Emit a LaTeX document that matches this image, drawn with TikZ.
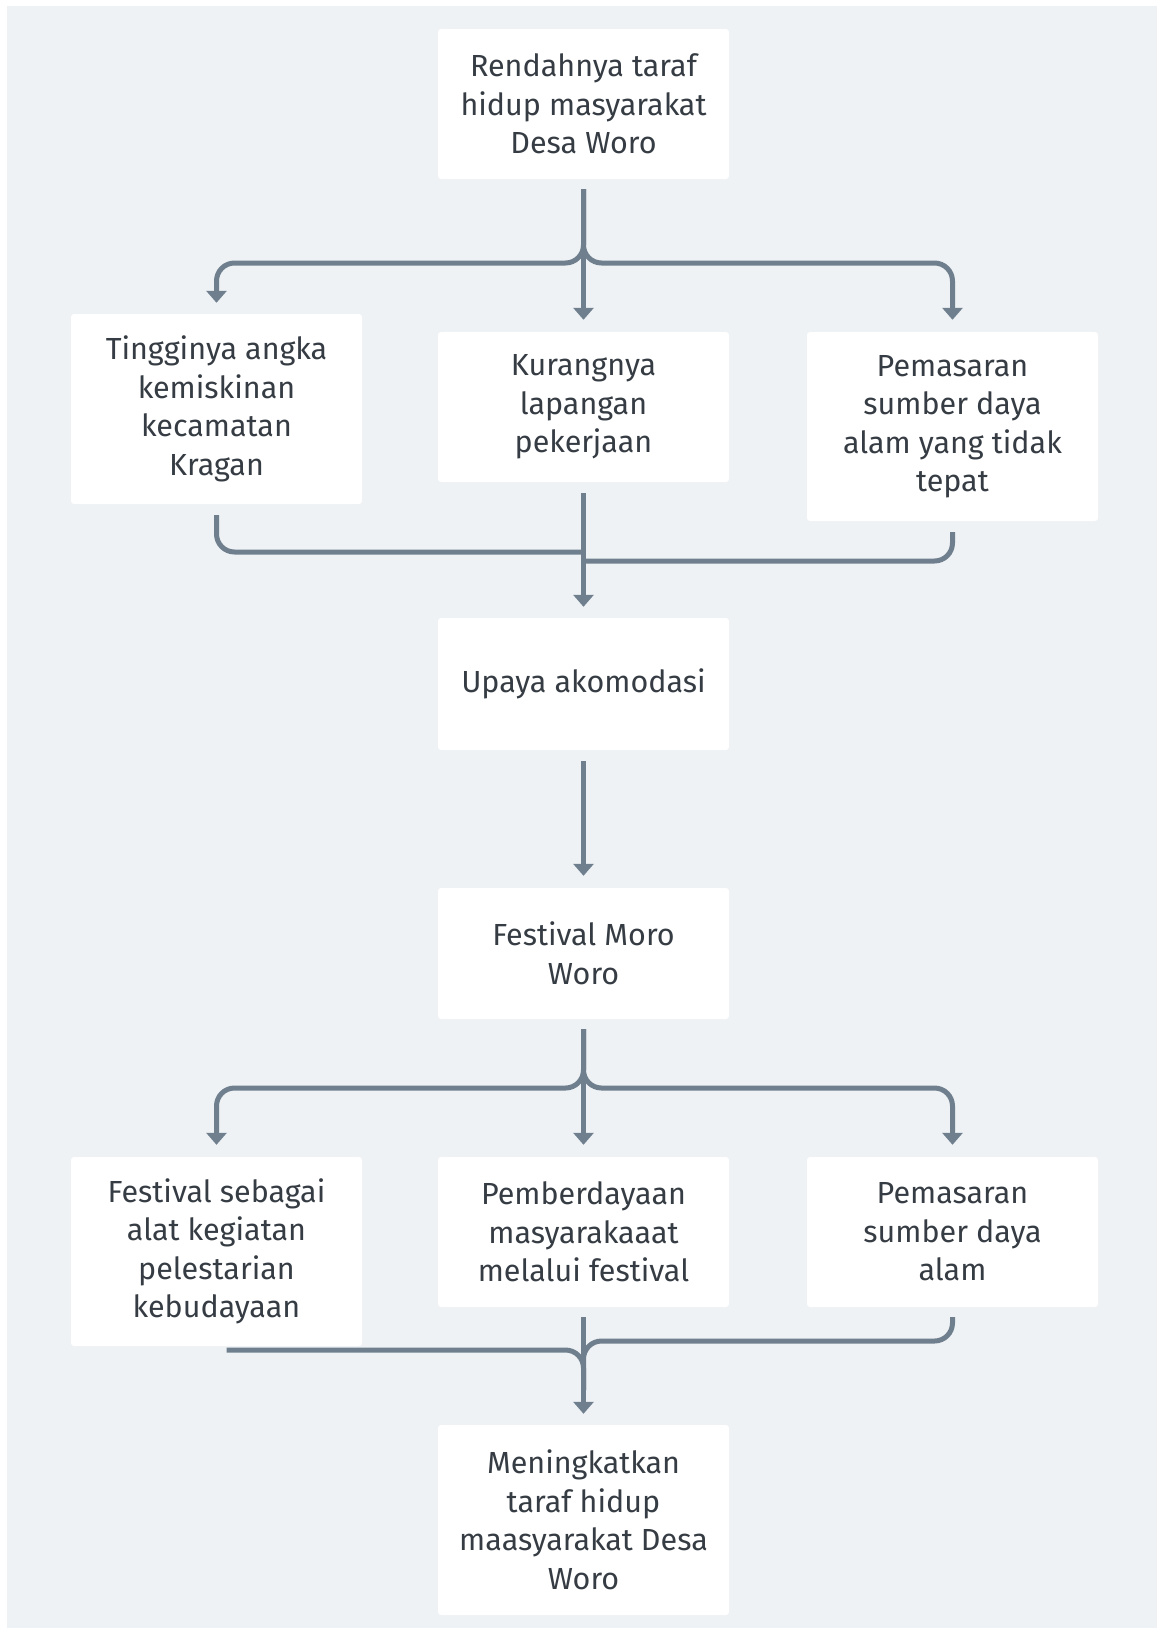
\documentclass[tikz,border=0pt]{standalone}
\usepackage{fontspec}
\setmainfont{Fira Sans}
\usetikzlibrary{arrows.meta}
\definecolor{bgfill}{HTML}{EEF2F5}
\definecolor{linkgray}{HTML}{6F7F8E}
\definecolor{txtgray}{HTML}{363C43}
\tikzset{
  box/.style={fill=white, rounded corners=3pt, minimum width=291pt, inner sep=0pt,
    align=center, text=txtgray, font=\fontsize{30.5}{38.5}\selectfont},
  link/.style={draw=linkgray, line width=5pt, rounded corners=18pt},
  arr/.style={link, -{Triangle[width=20pt,length=12pt]}},
}
\begin{document}
\begin{tikzpicture}[x=1pt, y=-1pt]
\useasboundingbox (0,0) rectangle (1157,1628);
\fill[white] (0,0) rectangle (1157,1628);
\fill[bgfill] (7,6) rectangle (1157,1628);

% boxes
\node[box, minimum height=150pt] (rendah) at (583.5,104) {Rendahnya taraf\\hidup masyarakat\\Desa Woro};
\node[box, minimum height=190pt] (tinggi) at (216.5,409) {Tingginya angka\\kemiskinan\\kecamatan\\Kragan};
\node[box, minimum height=150pt] (kurang) at (583.5,407) {Kurangnya\\lapangan\\pekerjaan};
\node[box, minimum height=189pt] (pasar) at (952.5,426.5) {Pemasaran\\sumber daya\\alam yang tidak\\tepat};
\node[box, minimum height=132pt] (upaya) at (583.5,684) {Upaya akomodasi};
\node[box, minimum height=131pt] (festival) at (583.5,953.5) {Festival Moro\\Woro};
\node[box, minimum height=189pt] (budaya) at (216.5,1251.5) {Festival sebagai\\alat kegiatan\\pelestarian\\kebudayaan};
\node[box, minimum height=150pt] (berdaya) at (583.5,1232) {Pemberdayaan\\masyarakaaat\\melalui festival};
\node[box, minimum height=150pt] (pasarb) at (952.5,1232) {Pemasaran\\sumber daya\\alam};
\node[box, minimum height=190pt] (naik) at (583.5,1520) {Meningkatkan\\taraf hidup\\maasyarakat Desa\\Woro};

% branch points
\coordinate (br1) at (583.5,263);
\coordinate (ma) at (583.5,552);
\coordinate (mb) at (583.5,561);
\coordinate (br2) at (583.5,1088);
\coordinate (mc) at (583.5,1350);
\coordinate (md) at (583.5,1341);
\coordinate (me) at (583.5,1390);

% first split
\draw[arr] ([yshift=-10pt]rendah.south) |- (tinggi.north |- br1) -- ([yshift=11pt]tinggi.north);
\draw[arr] ([yshift=-10pt]rendah.south) -- ([yshift=12pt]kurang.north);
\draw[arr] ([yshift=-10pt]rendah.south) |- (pasar.north |- br1) -- ([yshift=12pt]pasar.north);

% first merge
\draw[link] ([yshift=-11pt]tinggi.south) |- (ma);
\draw[link] ([yshift=-11pt]pasar.south) |- (mb);
\draw[arr] ([yshift=-11pt]kurang.south) -- ([yshift=11pt]upaya.north);

\draw[arr] ([yshift=-11pt]upaya.south) -- ([yshift=12pt]festival.north);

% second split
\draw[arr] ([yshift=-10pt]festival.south) |- (budaya.north |- br2) -- ([yshift=12pt]budaya.north);
\draw[arr] ([yshift=-10pt]festival.south) -- ([yshift=12pt]berdaya.north);
\draw[arr] ([yshift=-10pt]festival.south) |- (pasarb.north |- br2) -- ([yshift=12pt]pasarb.north);

% second merge
\draw[link] ([xshift=10pt,yshift=-4pt]budaya.south) -- (mc) -- (me);
\draw[link] ([yshift=-10pt]pasarb.south) |- (md) -- (me);
\draw[arr] ([yshift=-10pt]berdaya.south) -- ([yshift=11pt]naik.north);
\end{tikzpicture}
\end{document}
